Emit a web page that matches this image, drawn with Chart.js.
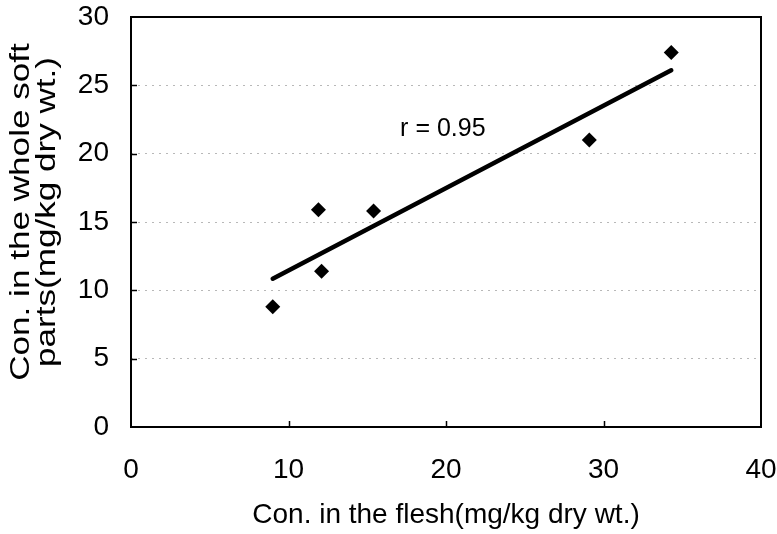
<!DOCTYPE html>
<html>
<head>
    <meta charset="utf-8" />
    <script src="https://cdn.jsdelivr.net/npm/chart.js"></script>
    <style>
        html, body { margin: 0; padding: 0; background: white; }
        .chart-container { width: 777px; height: 534px; }
    </style>
</head>
<body>
    <div class="chart-container">
        <canvas id="scatterChart"></canvas>
    </div>

    <script>
        // data
        const fleshConc = [9.0, 11.9, 12.1, 15.4, 29.1, 34.3];
        const softConc = [8.8, 15.9, 11.4, 15.8, 21.0, 27.4];
        const trendX = [9.0, 34.3];
        const trendY = [10.85, 26.1];
        const xTicks = [0, 10, 20, 30, 40];
        const yTicks = [0, 5, 10, 15, 20, 25, 30];
        const rLabel = 'r = 0.95';
        const rLabelAt = [19.8, 21.8];
        const yTitle = ['Con. in the whole soft', 'parts(mg/kg dry wt.)'];

        const FONT = "'Liberation Sans', Arial, sans-serif";

        // frame, inward tick marks, the r label and the (stretched) y title
        const framePlugin = {
            id: 'frame',
            afterDraw(chart) {
                const ctx = chart.ctx;
                const a = chart.chartArea;
                const xs = chart.scales.x, ys = chart.scales.y;
                ctx.save();
                ctx.strokeStyle = '#000';
                ctx.lineWidth = 2;
                ctx.strokeRect(a.left, a.top, a.right - a.left, a.bottom - a.top);
                ctx.lineWidth = 1.5;
                ctx.beginPath();
                xTicks.slice(1, -1).forEach(v => {
                    const px = Math.round(xs.getPixelForValue(v)) + 0.5;
                    ctx.moveTo(px, a.bottom);
                    ctx.lineTo(px, a.bottom - 6);
                });
                yTicks.slice(1, -1).forEach(v => {
                    const py = Math.round(ys.getPixelForValue(v)) + 0.5;
                    ctx.moveTo(a.left, py);
                    ctx.lineTo(a.left + 6, py);
                });
                ctx.stroke();

                ctx.fillStyle = '#000';
                ctx.font = '25px ' + FONT;
                ctx.textAlign = 'center';
                ctx.textBaseline = 'middle';
                ctx.fillText(rLabel, xs.getPixelForValue(rLabelAt[0]), ys.getPixelForValue(rLabelAt[1]));

                // y title, two lines, rotated
                ctx.font = '27px ' + FONT;
                const cy = (a.top + a.bottom) / 2 - 10;
                yTitle.forEach((line, i) => {
                    ctx.save();
                    ctx.translate(22 + i * 26, cy);
                    ctx.rotate(-Math.PI / 2);
                    ctx.scale(1.3, 1);
                    ctx.fillText(line, 0, 0);
                    ctx.restore();
                });
                ctx.restore();
            }
        };

        new Chart(
            document.getElementById('scatterChart'),
            {
                type: 'scatter',
                data: {
                    datasets: [
                        {
                            label: 'samples',
                            data: fleshConc.map((x, i) => ({ x: x, y: softConc[i] })),
                            pointStyle: 'rectRot',
                            pointRadius: 7.5,
                            pointHoverRadius: 7.5,
                            backgroundColor: '#000',
                            borderColor: '#000',
                            borderWidth: 0
                        },
                        {
                            label: 'fit',
                            type: 'line',
                            data: trendX.map((x, i) => ({ x: x, y: trendY[i] })),
                            borderColor: '#000',
                            borderWidth: 4.5,
                            pointRadius: 0,
                            borderCapStyle: 'round',
                            fill: false
                        }
                    ]
                },
                options: {
                    responsive: true,
                    maintainAspectRatio: false,
                    animation: false,
                    layout: { padding: { top: 17, right: 16, left: 0, bottom: 0 } },
                    plugins: {
                        legend: { display: false },
                        tooltip: { enabled: false }
                    },
                    scales: {
                        x: {
                            type: 'linear',
                            min: 0,
                            max: 40,
                            afterFit(scale) {
                                scale.height = 107;
                                scale.paddingLeft = 0;
                                scale.paddingRight = 0;
                            },
                            afterBuildTicks(scale) { scale.ticks = xTicks.map(v => ({ value: v })); },
                            grid: { display: false, drawTicks: false },
                            border: { display: false },
                            ticks: {
                                color: '#000',
                                padding: 26,
                                font: { family: FONT, size: 28 }
                            },
                            title: {
                                display: true,
                                text: 'Con. in the flesh(mg/kg dry wt.)',
                                color: '#000',
                                font: { family: FONT, size: 28, lineHeight: 1.0 },
                                padding: { top: 0, bottom: 5 }
                            }
                        },
                        y: {
                            type: 'linear',
                            min: 0,
                            max: 30,
                            afterFit(scale) {
                                scale.width = 131;
                                scale.paddingTop = 0;
                                scale.paddingBottom = 0;
                            },
                            afterBuildTicks(scale) { scale.ticks = yTicks.map(v => ({ value: v })); },
                            grid: {
                                drawTicks: false,
                                color: ctx => (ctx.tick && (ctx.tick.value === 0 || ctx.tick.value === 30)) ? 'rgba(0,0,0,0)' : '#b8b8b8',
                                lineWidth: 1
                            },
                            border: { display: false, dash: [2, 5] },
                            ticks: {
                                color: '#000',
                                padding: 22,
                                font: { family: FONT, size: 28 }
                            },
                            title: { display: false }
                        }
                    }
                },
                plugins: [framePlugin]
            }
        );
    </script>
</body>
</html>
